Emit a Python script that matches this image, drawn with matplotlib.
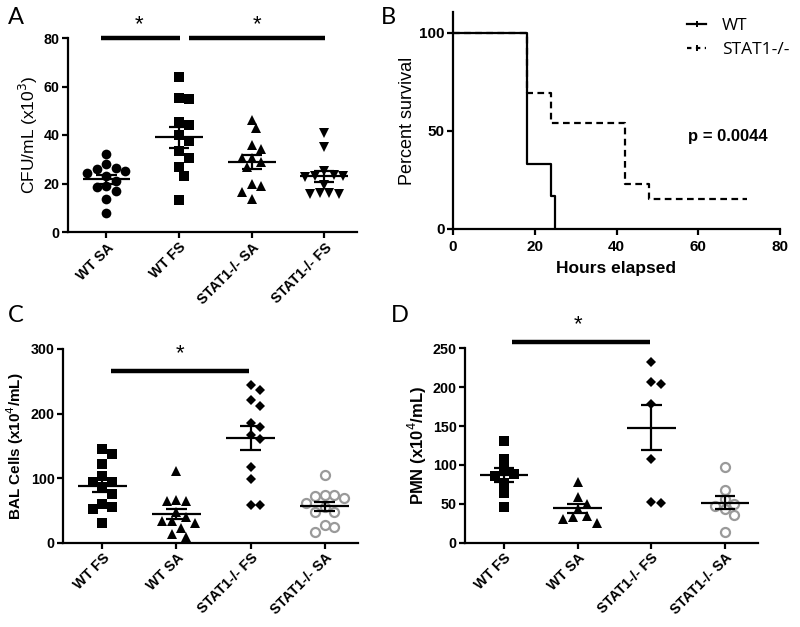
import numpy as np
import matplotlib
matplotlib.use('Agg')
import matplotlib.pyplot as plt
from matplotlib.lines import Line2D
from matplotlib.transforms import Bbox, TransformedBbox

# ---------------- data ----------------
a_labels = ["WT SA", "WT FS", "STAT1-/- SA", "STAT1-/- FS"]
a_wt_sa = [32, 26.5, 28, 25, 24.5, 26, 23, 21, 17, 19, 18.5, 13.5, 8]
a_wt_fs = [64, 55.4, 54.7, 44.1, 45.2, 40.1, 37.7, 30.4, 33.4, 26.7, 23.2, 13.1]
a_st_sa = [46.2, 42.8, 35.9, 34.1, 30.4, 30.4, 29, 26.9, 19.1, 19.8, 16.6, 13.5]
a_st_fs = [41, 35, 25, 23.5, 23, 23, 22.5, 19.5, 16, 15.5, 15.5, 16]

b_wt_t = [0, 18, 24, 25]
b_wt_s = [100, 33.3, 16.7, 0]
b_st_t = [0, 18, 24, 42, 48, 72]
b_st_s = [100, 69.2, 53.8, 23.1, 15.4, 15.4]
b_pval = "p = 0.0044"

cd_labels = ["WT FS", "WT SA", "STAT1-/- FS", "STAT1-/- SA"]
c_wt_fs = [145, 137, 122, 104, 94, 94, 87, 76, 60, 55, 52, 30]
c_wt_sa = [111, 66, 64, 64, 48, 40, 34, 33, 31, 22, 14, 9]
c_st_fs = [244, 236, 221, 212, 185, 179, 167, 160, 118, 99, 59, 59]
c_st_sa = [105, 74, 74, 69, 72, 62, 56, 48, 47, 27, 24, 16.5]

d_wt_fs = [131, 107.6, 94.4, 88.3, 85.8, 77.2, 64.3, 45.5]
d_wt_sa = [78.5, 58.4, 49.8, 42.9, 32.6, 30.5, 34.7, 24.9]
d_st_fs = [232.8, 207, 204, 179, 107.6, 50.6, 52]
d_st_sa = [97, 68, 56, 50, 47, 43, 36, 14]

# ---------------- style ----------------
W, H = 800, 627
fig = plt.figure(figsize=(8, 6.27), dpi=100)
AX_FONT = 'Liberation Sans'
LET_FONT = 'Lato'
LEG_FONT = 'Open Sans'
LW = 1.6

def fx(px): return px / W
def fy(py): return 1 - py / H

def axes_px(l, t, r, b):
    return fig.add_axes([fx(l), fy(b), (r - l) / W, (b - t) / H])

def style_axes(ax):
    for s in ['top', 'right']:
        ax.spines[s].set_visible(False)
    for s in ['left', 'bottom']:
        ax.spines[s].set_linewidth(LW)
    ax.tick_params(width=LW, length=4, direction='out', pad=2)
    for lab in ax.get_yticklabels() + ax.get_xticklabels():
        lab.set_fontfamily(AX_FONT)
        lab.set_fontweight('bold')

def swarm(ax, xc, vals, diam_px):
    vals = np.asarray(vals, float)
    tr = ax.transData
    inv = tr.inverted()
    x0 = tr.transform((xc, 0))[0]
    placed = []
    xs = np.empty(len(vals))
    order = np.argsort(-vals, kind='stable')
    cands = [0]
    for k in range(1, 12):
        cands += [k * 0.5, -k * 0.5]
    for i in order:
        py = tr.transform((xc, vals[i]))[1]
        for c in cands:
            px = x0 + c * diam_px
            if all((px - qx) ** 2 + (py - qy) ** 2 >= (diam_px * 0.98) ** 2 for qx, qy in placed):
                break
        placed.append((px, py))
        xs[i] = inv.transform((px, py))[0]
    return xs

def mean_sem(ax, xc, vals, lw=1.6):
    v = np.asarray(vals, float)
    m = v.mean()
    s = v.std(ddof=1) / np.sqrt(len(v))
    ax.hlines(m, xc - 0.33, xc + 0.33, color='k', lw=lw, zorder=6)
    ax.hlines([m - s, m + s], xc - 0.14, xc + 0.14, color='k', lw=lw, zorder=6)
    ax.vlines(xc, m - s, m + s, color='k', lw=lw, zorder=6)

def dot_panel(ax, groups, labels, markers, ylim, yticks, diam_px):
    ax.set_xlim(-0.53, 3.45)
    ax.set_ylim(*ylim)
    ax.set_yticks(yticks)
    ax.set_xticks(range(len(labels)))
    ax.set_xticklabels(labels, rotation=45, ha='right', rotation_mode='anchor')
    for i, (vals, mk) in enumerate(zip(groups, markers)):
        xs = swarm(ax, i, vals, diam_px)
        m, ms, fc, ec, mew = mk
        ax.plot(xs, vals, linestyle='none', marker=m, ms=ms, mfc=fc, mec=ec, mew=mew,
                zorder=4, clip_on=False)
        mean_sem(ax, i, vals)
    style_axes(ax)
    for lab in ax.get_xticklabels():
        lab.set_fontsize(10.3)
    for lab in ax.get_yticklabels():
        lab.set_fontsize(10.3)

def sig(ax, x0, x1, y, ys, xs):
    ax.plot([x0, x1], [y, y], color='k', lw=3.2, solid_capstyle='butt', clip_on=False)
    ax.text(xs, ys, '*', ha='center', va='center', fontsize=16, fontfamily=AX_FONT, clip_on=False)

# ---------------- Panel A ----------------
axA = axes_px(68, 38, 357, 232)
dot_panel(axA, [a_wt_sa, a_wt_fs, a_st_sa, a_st_fs], a_labels,
          [('o', 7, 'k', 'k', 0), ('s', 7, 'k', 'k', 0), ('^', 7.5, 'k', 'k', 0), ('v', 7.5, 'k', 'k', 0)],
          (0, 80), [0, 20, 40, 60, 80], 9.5)
axA.set_ylabel('CFU/mL (x10$^3$)', fontfamily=AX_FONT, fontsize=12.5, labelpad=3)
sig(axA, -0.07, 1.01, 80, 85.5, 0.45)
sig(axA, 1.14, 3.01, 80, 85.5, 2.07)
clipA = TransformedBbox(Bbox([[0, fy(306)], [1, 1]]), fig.transFigure)
for lab in axA.get_xticklabels():
    lab.set_clip_box(clipA)
    lab.set_clip_on(True)

# ---------------- Panel B ----------------
axB = axes_px(453, 12, 780, 229)
axB.step(b_wt_t, b_wt_s, where='post', color='k', lw=1.6, zorder=4)
axB.step(b_st_t, b_st_s, where='post', color='k', lw=1.6, linestyle=(0, (3, 2)), zorder=3)
axB.set_xlim(0, 80)
axB.set_ylim(0, 110.5)
axB.set_xticks([0, 20, 40, 60, 80])
axB.set_yticks([0, 50, 100])
style_axes(axB)
axB.tick_params(axis='x', pad=4)
for lab in axB.get_xticklabels() + axB.get_yticklabels():
    lab.set_fontsize(11)
axB.set_xlabel('Hours elapsed', fontfamily=AX_FONT, fontweight='bold', fontsize=12.5, labelpad=5)
axB.set_ylabel('Percent survival', fontfamily=AX_FONT, fontsize=13, labelpad=2)
axB.text(57.5, 46.9, b_pval, ha='left', va='center', fontfamily=AX_FONT, fontweight='bold', fontsize=12)
handles = [Line2D([0], [0], color='k', lw=1.6, marker='|', ms=4, mew=1.4),
           Line2D([0], [0], color='k', lw=1.6, linestyle=(0, (2, 2)), marker='|', ms=4, mew=1.4)]
axB.legend(handles, ['WT', 'STAT1-/-'], loc='upper left', bbox_to_anchor=(0.668, 1.045),
           frameon=False, prop={'family': LEG_FONT, 'size': 12.5, 'style': 'normal', 'weight': 'normal'},
           handlelength=1.1, handletextpad=0.9, labelspacing=0.45)

# ---------------- Panel C ----------------
axC = axes_px(63, 349, 358, 542.7)
dot_panel(axC, [c_wt_fs, c_wt_sa, c_st_fs, c_st_sa], cd_labels,
          [('s', 7, 'k', 'k', 0), ('^', 7.5, 'k', 'k', 0), ('D', 5, 'k', 'k', 0), ('o', 6.5, 'white', '#9a9a9a', 1.6)],
          (0, 300), [0, 100, 200, 300], 9.5)
axC.set_ylabel('BAL Cells (x10$^4$/mL)', fontfamily=AX_FONT, fontweight='bold', fontsize=11, labelpad=3)
sig(axC, 0.12, 1.98, 266, 293, 1.05)

# ---------------- Panel D ----------------
axD = axes_px(465, 348.3, 758, 542.7)
dot_panel(axD, [d_wt_fs, d_wt_sa, d_st_fs, d_st_sa], cd_labels,
          [('s', 7, 'k', 'k', 0), ('^', 7.5, 'k', 'k', 0), ('D', 5, 'k', 'k', 0), ('o', 6.5, 'white', '#9a9a9a', 1.6)],
          (0, 250), [0, 50, 100, 150, 200, 250], 9.5)
axD.set_ylabel('PMN (x10$^4$/mL)', fontfamily=AX_FONT, fontweight='bold', fontsize=12, labelpad=3)
sig(axD, 0.11, 1.98, 258.5, 280, 1.0)

# ---------------- panel letters ----------------
for txt, x, y in [('A', 8, 17), ('B', 381, 17), ('C', 8, 315), ('D', 391, 315)]:
    fig.text(fx(x), fy(y), txt, fontfamily=LET_FONT, fontsize=17, va='center', ha='left')

fig.savefig('out.png', dpi=100)
